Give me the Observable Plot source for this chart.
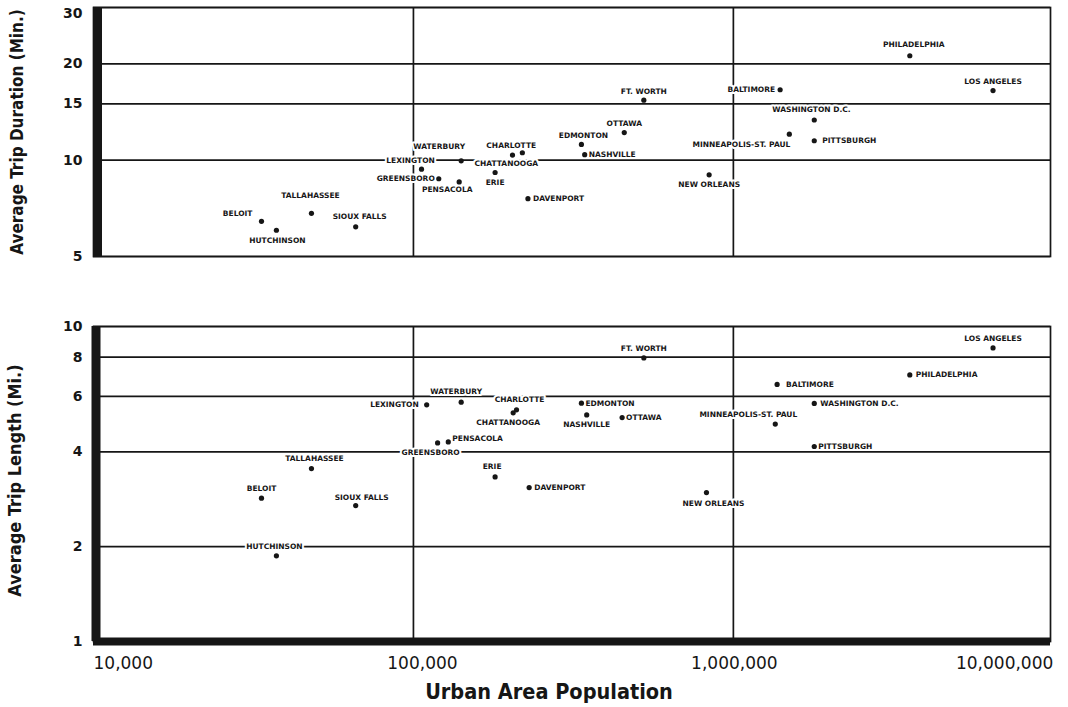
<!DOCTYPE html>
<html>
<head>
<meta charset="utf-8">
<script src="https://cdn.jsdelivr.net/npm/d3@7"></script>
<script src="https://cdn.jsdelivr.net/npm/@observablehq/plot@0.6"></script>
<style>
  html, body { margin: 0; padding: 0; background: #fff; overflow: hidden; }
  #chart svg { display: block; }
  g[aria-label="city"] text { letter-spacing: 0.8px; }
  g[aria-label="title"] text { font-stretch: condensed; }
</style>
</head>
<body>
<div id="chart"></div>
<script>
// ---------------- data ----------------
const cities = [
  "BELOIT", "HUTCHINSON", "TALLAHASSEE", "SIOUX FALLS", "LEXINGTON", "GREENSBORO",
  "WATERBURY", "PENSACOLA", "ERIE", "CHATTANOOGA", "CHARLOTTE", "DAVENPORT",
  "EDMONTON", "NASHVILLE", "OTTAWA", "FT. WORTH", "NEW ORLEANS", "BALTIMORE",
  "MINNEAPOLIS-ST. PAUL", "WASHINGTON D.C.", "PITTSBURGH", "PHILADELPHIA", "LOS ANGELES"
];
// population as plotted in the trip-duration panel
const popDuration = [
  33500, 37300, 48000, 66000, 106000, 120000,
  141000, 139000, 180000, 204000, 219000, 228000,
  335000, 343000, 456000, 525000, 840000, 1400000,
  1496000, 1790000, 1790000, 3560000, 6480000
];
// average trip duration (minutes)
const duration = [
  6.44, 6.04, 6.82, 6.19, 9.37, 8.75,
  9.95, 8.55, 9.15, 10.37, 10.55, 7.58,
  11.2, 10.4, 12.2, 15.4, 9.0, 16.6,
  12.06, 13.35, 11.5, 21.2, 16.5
];
// population as plotted in the trip-length panel
const popLength = [
  33500, 37300, 48000, 66000, 110000, 119000,
  141000, 128500, 180000, 205000, 210000, 230000,
  335000, 348000, 449000, 525000, 824000, 1370000,
  1352000, 1790000, 1790000, 3560000, 6480000
];
// average trip length (miles)
const tripLength = [
  2.85, 1.87, 3.54, 2.70, 5.64, 4.27,
  5.75, 4.30, 3.33, 5.32, 5.44, 3.08,
  5.71, 5.24, 5.14, 7.95, 2.97, 6.55,
  4.90, 5.70, 4.16, 7.02, 8.55
];
const durationTicks = [5, 10, 15, 20, 30];
const lengthTicks = [1, 2, 4, 6, 8, 10];
const popGrid = [100000, 1000000];
const popTicks = [10000, 100000, 1000000, 10000000];
const popTickLabels = ["10,000", "100,000", "1,000,000", "10,000,000"];
const durationTitle = "Average Trip Duration (Min.)";
const lengthTitle = "Average Trip Length (Mi.)";
const popTitle = "Urban Area Population";

// ---------------- layout (label placement: anchor, dx, dy) ----------------
const labelTop = {
  "BELOIT": ["end", -9, -8],
  "HUTCHINSON": ["middle", 1, 10],
  "TALLAHASSEE": ["middle", -1, -18],
  "SIOUX FALLS": ["middle", 4, -10],
  "LEXINGTON": ["middle", -11, -9],
  "GREENSBORO": ["end", -4, 0],
  "WATERBURY": ["middle", -22, -14],
  "PENSACOLA": ["middle", -12, 8],
  "ERIE": ["middle", 0, 10],
  "CHATTANOOGA": ["start", -38, 8],
  "CHARLOTTE": ["start", -36, -7],
  "DAVENPORT": ["start", 5, 0],
  "EDMONTON": ["middle", 2, -9],
  "NASHVILLE": ["start", 4, 0],
  "OTTAWA": ["middle", 0, -9],
  "FT. WORTH": ["middle", 0, -9],
  "NEW ORLEANS": ["middle", 0, 10],
  "BALTIMORE": ["end", -5, 0],
  "MINNEAPOLIS-ST. PAUL": ["end", 1, 10],
  "WASHINGTON D.C.": ["start", -42, -10],
  "PITTSBURGH": ["start", 8, 0],
  "PHILADELPHIA": ["middle", 4, -11],
  "LOS ANGELES": ["middle", 0, -9]
};
const labelBottom = {
  "BELOIT": ["middle", 0, -10],
  "HUTCHINSON": ["middle", -2, -9],
  "TALLAHASSEE": ["middle", 3, -10],
  "SIOUX FALLS": ["middle", 6, -8],
  "LEXINGTON": ["end", -8, 0],
  "GREENSBORO": ["middle", -7, 10],
  "WATERBURY": ["middle", -5, -11],
  "PENSACOLA": ["start", 4, -3],
  "ERIE": ["middle", -3, -10],
  "CHATTANOOGA": ["middle", -5, 10],
  "CHARLOTTE": ["middle", 3, -10],
  "DAVENPORT": ["start", 5, 0],
  "EDMONTON": ["start", 4, 0],
  "NASHVILLE": ["middle", 0, 10],
  "OTTAWA": ["start", 4, 0],
  "FT. WORTH": ["middle", 0, -9],
  "NEW ORLEANS": ["middle", 7, 11],
  "BALTIMORE": ["start", 9, 0],
  "MINNEAPOLIS-ST. PAUL": ["middle", -27, -9],
  "WASHINGTON D.C.": ["start", 6, 0],
  "PITTSBURGH": ["start", 4, 0],
  "PHILADELPHIA": ["start", 6, 0],
  "LOS ANGELES": ["middle", 0, -9]
};
const xTickAnchor = ["start", "middle", "middle", "end"];
const xTickDx = [0, 9, 1, 0];

const ink = "#161616";
const sans = "DejaVu Sans, sans-serif";
const condensed = "DejaVu Sans Condensed, DejaVu Sans, sans-serif";

const durationRows = cities.map((c, i) => ({city: c, pop: popDuration[i], value: duration[i]}));
const lengthRows = cities.map((c, i) => ({city: c, pop: popLength[i], value: tripLength[i]}));

function cityLabels(rows, layout) {
  return rows.map(r => {
    const [anchor, dx, dy] = layout[r.city];
    return Plot.text([r], {
      x: "pop", y: "value", text: "city",
      textAnchor: anchor, dx, dy,
      fontSize: 7.5, fontWeight: "bold", fontFamily: sans,
      fill: ink, stroke: "white", strokeWidth: 4, paintOrder: "stroke",
      ariaLabel: "city"
    });
  });
}

const tickStyle = {fontSize: 14, fontWeight: "bold", fontFamily: sans, fill: ink,
  textAnchor: "end", lineAnchor: "middle", frameAnchor: "left", dx: -11};
const titleStyle = {fontWeight: "bold", fontFamily: condensed, fill: ink,
  textAnchor: "middle", lineAnchor: "middle", ariaLabel: "title"};
const xDomain = [10000, 9800000];

// ---------------- top panel: duration ----------------
const topPlot = Plot.plot({
  width: 1068, height: 290,
  marginLeft: 93, marginRight: 18, marginTop: 7, marginBottom: 34,
  x: {type: "log", domain: xDomain, axis: null},
  y: {type: "log", domain: [5, 30], axis: null},
  style: {background: "white"},
  marks: [
    Plot.ruleY(durationTicks, {stroke: ink, strokeWidth: 1.7}),
    Plot.ruleX(popGrid, {stroke: ink, strokeWidth: 1.7}),
    Plot.frame({stroke: ink, strokeWidth: 1.7}),
    Plot.ruleX([xDomain[0]], {stroke: ink, strokeWidth: 8, dx: 4.5}),
    ...cityLabels(durationRows, labelTop),
    Plot.dot(durationRows, {x: "pop", y: "value", r: 2.6, fill: ink}),
    Plot.text(durationTicks.slice(0, -1), {y: d => d, text: d => String(d), ...tickStyle}),
    Plot.text(durationTicks.slice(-1), {y: d => d, text: d => String(d), ...tickStyle, lineAnchor: "top", dy: 1}),
    Plot.text([durationTitle], {text: d => d, frameAnchor: "left", rotate: -90, dx: -76,
      fontSize: 17, ...titleStyle})
  ]
});

// ---------------- bottom panel: length ----------------
const bottomPlot = Plot.plot({
  width: 1068, height: 417,
  marginLeft: 93, marginRight: 18, marginTop: 36, marginBottom: 66,
  x: {type: "log", domain: xDomain, axis: null},
  y: {type: "log", domain: [1, 10], axis: null},
  style: {background: "white"},
  marks: [
    Plot.ruleY(lengthTicks, {stroke: ink, strokeWidth: 1.7}),
    Plot.ruleX(popGrid, {stroke: ink, strokeWidth: 1.7}),
    Plot.frame({stroke: ink, strokeWidth: 1.7}),
    Plot.ruleX([xDomain[0]], {stroke: ink, strokeWidth: 9, dx: 2.5}),
    Plot.ruleY([lengthTicks[0]], {stroke: ink, strokeWidth: 8}),
    ...cityLabels(lengthRows, labelBottom),
    Plot.dot(lengthRows, {x: "pop", y: "value", r: 2.6, fill: ink}),
    Plot.text(lengthTicks, {y: d => d, text: d => String(d), ...tickStyle}),
    ...popTicks.map((v, i) => Plot.text([v], {
      x: d => d, text: () => popTickLabels[i], frameAnchor: "bottom", dy: 22.5,
      textAnchor: xTickAnchor[i], lineAnchor: "middle", dx: xTickDx[i],
      fontSize: 17, fontFamily: sans, fill: ink
    })),
    Plot.text([popTitle], {text: d => d, frameAnchor: "bottom", dy: 51, dx: -23,
      fontSize: 21.5, ...titleStyle}),
    Plot.text([lengthTitle], {text: d => d, frameAnchor: "left", rotate: -90, dx: -78, dy: -3.5,
      fontSize: 18, ...titleStyle})
  ]
});

const chart = document.getElementById("chart");
chart.appendChild(topPlot);
chart.appendChild(bottomPlot);
</script>
</body>
</html>
